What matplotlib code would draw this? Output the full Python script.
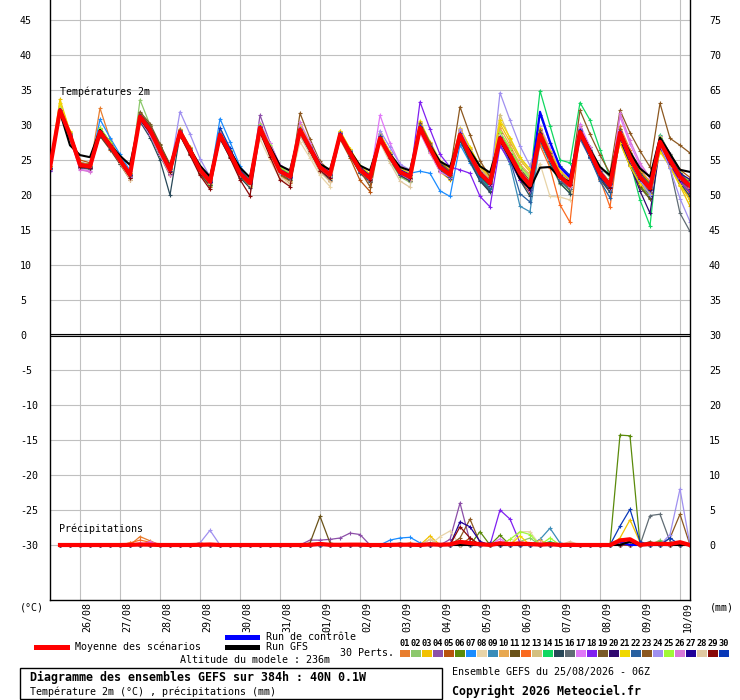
import matplotlib
matplotlib.use("Agg")
import matplotlib.pyplot as plt
from matplotlib.lines import Line2D
from matplotlib.patches import Rectangle
import numpy as np

# ---------------- DATA ----------------
step_hours = 6
n_steps = 65
day_labels = ["26/08", "27/08", "28/08", "29/08", "30/08", "31/08", "01/09", "02/09",
              "03/09", "04/09", "05/09", "06/09", "07/09", "08/09", "09/09", "10/09"]
member_names = ["01", "02", "03", "04", "05", "06", "07", "08", "09", "10",
                "11", "12", "13", "14", "15", "16", "17", "18", "19", "20",
                "21", "22", "23", "24", "25", "26", "27", "28", "29", "30"]
member_colors = ["#e87d2e", "#8cc86c", "#f2c200", "#8c4fa8", "#b8520c", "#5a8a0a", "#1a8cff",
                 "#e8d4a8", "#3a8cb8", "#e8a850", "#6a5218", "#fa6a20", "#d4c080", "#10d860",
                 "#284858", "#606c74", "#e078f8", "#8020f0", "#7a5a28", "#300870", "#f0d800",
                 "#2860a0", "#8c5820", "#a090f0", "#a0f838", "#d878d8", "#200098", "#e0c8a0",
                 "#880808", "#0838b8"]

# 2 m temperature (deg C), every 6 h from 25/08 06Z
t_mean = [23.9, 32.1, 28.6, 24.3, 24.1, 29.0, 27.1, 25.0, 22.9, 31.2, 29.3, 26.4, 23.6,
          29.0, 26.4, 23.6, 21.9, 28.6, 26.0, 23.1, 21.7, 29.6, 26.4, 23.4, 22.6,
          29.3, 26.7, 24.0, 22.9, 28.6, 26.0, 23.6, 22.4, 28.1, 25.5, 23.3, 22.6,
          29.6, 26.7, 24.0, 22.9, 28.6, 25.7, 23.1, 21.7, 28.1, 25.7, 23.1, 21.4,
          28.6, 25.4, 22.6, 21.4, 29.0, 26.1, 23.1, 21.4, 28.9, 25.4, 22.6, 21.0,
          27.6, 25.0, 22.6, 21.3]
t_control = [24.0, 32.3, 28.8, 24.4, 24.2, 29.2, 27.3, 25.2, 23.0, 31.4, 29.5, 26.6, 23.8,
             29.2, 26.6, 23.8, 22.1, 28.8, 26.2, 23.3, 21.9, 29.8, 26.6, 23.6, 22.8,
             29.5, 26.9, 24.2, 23.1, 28.8, 26.2, 23.8, 22.6, 28.3, 25.7, 23.5, 22.8,
             29.8, 26.9, 24.2, 23.1, 28.8, 25.9, 23.3, 21.9, 28.3, 25.9, 23.3, 21.6,
             31.9, 27.6, 24.0, 22.5, 29.2, 26.3, 23.3, 21.6, 29.1, 25.6, 22.8, 21.2,
             27.8, 25.2, 22.8, 21.4]
t_gfs = [23.8, 31.8, 27.1, 25.7, 25.4, 29.3, 27.2, 25.6, 24.3, 30.9, 29.0, 26.5, 24.0,
         28.9, 26.6, 24.2, 22.6, 28.4, 26.3, 23.9, 22.5, 29.4, 26.9, 24.2, 23.5,
         29.1, 26.8, 24.4, 23.6, 28.4, 26.3, 24.2, 23.5, 27.9, 25.8, 24.0, 23.5,
         29.3, 27.0, 24.8, 24.0, 28.3, 26.3, 24.1, 23.2, 27.8, 25.3, 22.3, 20.9,
         23.9, 24.0, 22.4, 21.9, 29.2, 26.5, 24.0, 22.8, 28.7, 26.1, 23.8, 22.6,
         28.2, 25.9, 23.6, 23.3]

t01 = [24.0, 32.5, 28.0, 24.0, 23.8, 32.4, 28.0, 25.2, 22.5, 31.0, 29.0, 26.0, 23.2, 29.5, 26.8, 23.8, 21.5, 28.9, 26.3, 23.4, 21.9, 29.9, 26.1, 23.0, 22.2, 29.6, 27.0, 24.4, 23.3, 28.3, 25.6, 23.1, 21.9, 28.6, 25.9, 23.8, 23.0, 30.2, 27.3, 24.6, 23.4, 29.1, 26.3, 23.8, 22.3, 27.4, 25.0, 22.4, 20.6, 29.4, 26.1, 23.3, 22.0, 28.3, 25.4, 22.2, 20.4, 29.8, 26.5, 23.6, 21.9, 28.2, 24.6, 21.4, 19.5]
t02 = [23.6, 31.6, 28.4, 24.0, 23.9, 28.6, 26.8, 24.7, 22.6, 33.6, 30.0, 26.8, 23.8, 28.5, 25.9, 23.1, 21.3, 28.2, 25.6, 22.7, 21.2, 29.2, 26.0, 23.0, 22.1, 29.9, 27.2, 24.5, 23.4, 28.9, 26.4, 24.1, 22.9, 27.6, 24.9, 22.6, 21.8, 29.1, 26.1, 23.4, 22.4, 28.0, 25.0, 22.4, 20.8, 29.0, 26.7, 24.2, 22.6, 27.8, 24.5, 21.6, 20.3, 29.6, 26.9, 24.0, 22.5, 27.9, 24.4, 21.5, 19.6, 27.0, 24.6, 22.4, 21.6]
t03 = [24.1, 33.7, 29.0, 24.5, 24.3, 29.3, 27.4, 25.3, 23.2, 31.3, 29.5, 26.6, 23.9, 29.4, 26.9, 24.0, 22.3, 29.0, 26.4, 23.5, 22.1, 29.3, 26.0, 22.9, 22.0, 28.8, 26.1, 23.5, 22.3, 29.1, 26.6, 24.2, 23.0, 28.5, 26.0, 23.9, 23.1, 29.0, 26.0, 23.3, 22.2, 28.1, 25.1, 22.5, 21.1, 30.2, 27.6, 25.0, 23.3, 28.2, 25.2, 22.6, 21.5, 28.4, 25.6, 22.7, 21.0, 29.5, 26.0, 23.3, 21.8, 26.9, 24.0, 21.3, 18.4]
t04 = [23.5, 31.8, 28.8, 24.6, 24.4, 28.7, 26.9, 24.8, 22.7, 30.8, 28.8, 25.9, 23.1, 29.3, 26.6, 23.9, 22.2, 28.3, 25.8, 22.9, 21.5, 31.4, 27.5, 24.2, 23.2, 28.9, 26.3, 23.7, 22.5, 28.2, 25.7, 23.3, 22.1, 28.7, 26.1, 23.9, 23.0, 30.5, 27.3, 24.5, 23.3, 28.0, 25.2, 22.4, 21.0, 28.8, 26.4, 23.8, 22.0, 29.4, 26.2, 23.4, 22.2, 28.0, 25.3, 22.4, 20.8, 28.4, 25.0, 22.0, 20.4, 27.3, 25.2, 23.0, 21.8]
t05 = [24.2, 32.0, 28.9, 25.0, 24.6, 28.4, 26.5, 24.4, 22.2, 31.7, 29.9, 26.9, 24.0, 28.6, 25.9, 23.0, 21.2, 28.8, 26.2, 23.2, 21.9, 29.1, 25.9, 22.8, 21.7, 29.0, 26.2, 23.3, 22.0, 28.0, 25.3, 22.1, 20.5, 27.9, 25.4, 23.1, 22.4, 29.9, 27.2, 24.6, 23.6, 29.3, 26.6, 24.1, 22.7, 27.6, 25.1, 22.2, 20.3, 28.8, 25.9, 23.3, 22.0, 29.8, 26.8, 23.7, 21.7, 28.2, 24.9, 21.9, 20.0, 28.5, 25.9, 23.6, 22.5]
t06 = [23.8, 32.2, 28.3, 24.1, 23.9, 29.6, 27.6, 25.4, 23.1, 30.6, 28.6, 25.6, 22.8, 28.7, 26.0, 23.2, 21.5, 28.5, 25.8, 23.0, 21.3, 29.7, 26.7, 23.7, 23.0, 29.4, 26.9, 24.3, 23.1, 28.7, 26.2, 23.9, 22.7, 28.3, 25.5, 23.2, 22.3, 29.4, 26.6, 24.0, 22.9, 28.8, 25.6, 22.9, 21.4, 28.3, 25.6, 22.8, 21.0, 27.6, 24.7, 22.0, 20.6, 28.9, 25.8, 22.6, 20.6, 28.0, 24.5, 21.3, 19.6, 27.8, 25.4, 23.1, 21.9]
t07 = [23.7, 31.9, 28.5, 24.2, 24.0, 30.8, 28.2, 25.8, 23.5, 31.1, 29.1, 26.2, 23.4, 29.3, 26.7, 23.9, 22.1, 30.9, 27.6, 24.1, 22.4, 29.4, 26.3, 23.5, 22.7, 29.2, 26.8, 24.2, 23.2, 28.9, 26.4, 24.0, 22.8, 28.4, 25.6, 23.4, 23.1, 23.4, 23.1, 20.6, 19.8, 27.2, 24.6, 22.0, 20.6, 28.6, 26.2, 23.6, 21.8, 29.1, 25.9, 23.1, 21.9, 28.5, 25.6, 22.7, 21.2, 29.0, 25.8, 23.0, 21.6, 27.5, 24.9, 22.3, 20.8]
t08 = [23.6, 32.4, 28.7, 23.8, 23.5, 28.8, 26.9, 24.9, 22.4, 30.9, 28.7, 25.8, 22.9, 28.8, 26.2, 23.4, 21.7, 29.1, 26.4, 23.6, 22.1, 28.0, 25.0, 22.3, 21.5, 27.6, 25.3, 22.8, 21.2, 28.8, 26.3, 23.8, 22.6, 28.3, 25.8, 23.6, 22.8, 30.4, 27.6, 25.0, 23.7, 28.9, 26.0, 23.4, 22.0, 28.3, 25.8, 23.3, 21.2, 24.5, 19.8, 19.7, 19.3, 28.6, 25.9, 22.9, 21.3, 28.7, 25.4, 22.5, 20.7, 27.9, 25.6, 23.2, 22.1]
t09 = [24.0, 31.7, 28.2, 24.4, 24.2, 29.2, 27.3, 25.1, 22.9, 31.4, 29.4, 26.5, 23.7, 29.1, 26.5, 23.7, 22.0, 28.4, 25.9, 23.0, 21.6, 29.5, 26.6, 23.6, 22.8, 29.1, 26.4, 23.8, 22.6, 28.4, 25.7, 23.2, 22.0, 28.2, 25.4, 23.1, 22.4, 29.8, 26.9, 24.1, 22.8, 28.2, 25.3, 22.6, 21.2, 27.3, 24.4, 18.4, 17.6, 27.6, 24.6, 21.9, 20.8, 28.1, 25.3, 22.4, 20.9, 28.1, 24.7, 21.7, 20.1, 27.1, 24.3, 21.8, 20.4]
t10 = [23.9, 32.3, 28.8, 24.5, 24.3, 29.4, 27.5, 25.3, 23.0, 31.5, 29.6, 26.7, 23.9, 29.2, 26.4, 23.4, 21.6, 28.1, 25.5, 22.6, 21.1, 29.8, 26.6, 23.6, 22.9, 29.5, 26.8, 24.1, 22.7, 28.5, 26.1, 23.6, 22.5, 27.7, 25.1, 23.0, 22.2, 29.2, 26.3, 23.6, 22.5, 29.5, 26.7, 24.0, 22.5, 29.6, 27.1, 24.4, 22.9, 28.4, 25.2, 22.5, 21.4, 29.5, 26.4, 23.4, 21.6, 28.3, 25.1, 22.3, 20.8, 26.5, 24.1, 21.7, 20.0]
t11 = [24.1, 31.9, 28.6, 24.3, 24.2, 28.9, 27.0, 24.8, 22.8, 31.6, 29.9, 27.2, 24.4, 29.0, 26.6, 23.8, 22.0, 28.4, 25.7, 22.8, 21.4, 29.4, 26.7, 23.8, 22.8, 29.0, 26.6, 23.9, 22.6, 29.0, 26.3, 23.7, 22.4, 28.0, 25.4, 23.3, 22.6, 29.3, 26.4, 23.8, 22.7, 27.8, 24.8, 22.1, 20.6, 28.5, 25.9, 23.3, 21.7, 28.0, 24.9, 22.1, 20.9, 28.8, 25.9, 22.9, 21.0, 27.6, 24.1, 21.1, 19.4, 27.7, 24.9, 22.0, 20.3]
t12 = [23.8, 32.0, 28.4, 24.1, 23.9, 28.9, 26.9, 24.9, 22.7, 31.0, 28.8, 25.9, 22.9, 28.9, 26.3, 23.6, 21.9, 28.7, 26.1, 23.2, 21.8, 29.5, 26.2, 23.1, 22.4, 29.3, 26.9, 24.2, 23.0, 28.4, 25.8, 23.4, 22.2, 27.8, 25.2, 22.8, 22.0, 29.7, 26.9, 24.2, 23.1, 28.4, 25.5, 22.8, 21.4, 28.0, 25.4, 22.7, 21.0, 27.1, 23.9, 18.6, 16.1, 29.2, 26.0, 22.3, 18.3, 28.6, 25.3, 22.3, 20.5, 27.4, 24.8, 22.2, 20.6]
t13 = [24.0, 32.6, 28.9, 24.4, 24.1, 29.1, 27.2, 25.1, 23.0, 31.2, 29.2, 26.3, 23.5, 29.1, 26.3, 23.5, 21.8, 28.8, 26.2, 23.3, 21.8, 29.6, 26.5, 23.5, 22.6, 29.7, 26.8, 24.2, 22.9, 28.8, 26.2, 23.7, 22.4, 28.3, 25.6, 23.4, 22.7, 29.9, 27.1, 24.4, 23.2, 28.9, 26.1, 23.6, 22.2, 31.5, 28.0, 25.2, 23.6, 29.2, 26.0, 23.1, 21.9, 28.8, 25.8, 22.9, 21.1, 29.0, 25.6, 22.8, 21.2, 27.9, 25.5, 22.9, 21.0]
t14 = [23.7, 32.1, 28.5, 24.2, 24.0, 28.7, 26.9, 24.7, 22.6, 31.3, 29.3, 26.3, 23.4, 28.9, 26.2, 23.4, 21.7, 28.7, 26.1, 23.3, 21.7, 29.4, 26.2, 23.2, 22.3, 29.1, 26.5, 23.8, 22.5, 28.7, 26.0, 23.5, 22.2, 28.1, 25.4, 23.2, 22.4, 29.5, 26.4, 23.7, 22.6, 28.9, 25.6, 22.7, 21.0, 28.1, 25.8, 23.5, 22.0, 34.9, 29.9, 25.0, 24.6, 33.2, 30.7, 26.5, 22.5, 28.2, 24.8, 19.3, 15.6, 28.6, 25.8, 22.9, 21.4]
t15 = [23.8, 31.5, 28.0, 23.9, 23.7, 28.5, 26.6, 24.5, 22.4, 30.5, 28.2, 25.0, 20.0, 28.6, 25.9, 23.1, 21.4, 28.0, 25.4, 22.5, 21.0, 29.2, 26.0, 23.0, 22.1, 28.7, 26.0, 23.4, 22.2, 28.2, 25.6, 23.1, 21.9, 27.9, 25.1, 22.8, 22.0, 29.1, 26.3, 23.5, 22.3, 27.9, 24.9, 22.0, 20.4, 27.5, 24.9, 22.1, 19.8, 28.0, 24.8, 21.7, 20.2, 28.5, 25.4, 22.3, 20.4, 28.6, 25.0, 21.9, 19.9, 27.3, 24.4, 21.7, 19.8]
t16 = [24.0, 32.2, 28.6, 24.3, 24.1, 29.0, 27.0, 25.0, 22.9, 31.1, 29.2, 26.3, 23.5, 28.8, 26.2, 23.5, 21.8, 28.5, 25.9, 23.0, 21.6, 29.5, 26.4, 23.3, 22.5, 29.2, 26.6, 23.9, 22.8, 28.5, 25.9, 23.5, 22.3, 28.0, 25.3, 23.1, 22.4, 29.6, 26.7, 23.9, 22.8, 28.5, 25.5, 22.9, 21.4, 27.9, 25.3, 22.6, 21.0, 28.3, 25.0, 22.2, 20.8, 28.7, 25.7, 22.7, 20.9, 28.3, 24.8, 21.9, 20.3, 27.0, 23.9, 17.4, 14.8]
t17 = [23.6, 32.3, 28.2, 23.7, 23.4, 29.2, 27.2, 25.0, 22.8, 30.9, 28.9, 26.0, 23.2, 28.9, 26.3, 23.4, 21.7, 28.6, 26.0, 23.1, 21.6, 30.3, 27.4, 24.3, 23.1, 30.2, 26.8, 24.0, 22.7, 28.9, 26.1, 23.6, 22.3, 31.4, 27.4, 24.4, 23.1, 28.9, 26.0, 23.3, 22.5, 29.0, 25.8, 23.0, 21.5, 27.5, 25.0, 22.4, 20.6, 29.8, 26.7, 23.7, 22.3, 30.1, 26.9, 23.7, 21.8, 31.2, 27.3, 24.2, 22.4, 28.4, 25.9, 23.1, 21.5]
t18 = [23.5, 31.7, 28.2, 24.0, 23.8, 28.8, 26.9, 24.8, 22.6, 31.0, 28.9, 26.0, 23.2, 29.1, 26.4, 23.6, 21.9, 28.9, 26.3, 23.4, 21.9, 29.8, 26.5, 23.4, 22.5, 29.1, 26.6, 23.8, 22.6, 28.6, 26.0, 23.4, 22.1, 28.0, 25.3, 23.0, 22.3, 33.3, 29.4, 25.8, 24.0, 23.6, 23.1, 19.8, 18.3, 27.0, 24.8, 22.2, 20.8, 28.9, 25.6, 22.8, 21.6, 29.4, 26.3, 23.3, 21.5, 29.1, 25.7, 22.9, 21.1, 26.8, 24.2, 21.9, 20.4]
t19 = [24.1, 32.0, 28.8, 24.6, 24.4, 29.3, 27.4, 25.3, 23.1, 31.9, 30.2, 27.3, 24.2, 29.2, 26.7, 23.8, 22.0, 28.9, 26.3, 23.4, 22.0, 29.8, 26.9, 23.9, 23.0, 29.6, 27.0, 24.3, 23.1, 28.8, 26.2, 23.8, 22.6, 28.1, 25.6, 23.5, 22.9, 30.0, 27.2, 24.5, 23.3, 28.7, 25.9, 23.3, 21.9, 28.4, 26.0, 23.4, 21.9, 28.6, 25.6, 22.9, 21.8, 29.2, 26.3, 23.3, 21.7, 29.4, 26.0, 23.2, 21.6, 28.0, 25.6, 23.0, 21.9]
t20 = [23.9, 31.9, 28.4, 24.2, 24.0, 29.1, 27.1, 24.9, 22.8, 30.8, 28.7, 25.8, 23.0, 29.0, 26.4, 23.6, 21.8, 28.5, 25.8, 22.9, 21.5, 29.6, 26.5, 23.5, 22.7, 29.2, 26.5, 23.8, 22.7, 28.6, 26.0, 23.5, 22.3, 28.4, 25.8, 23.6, 22.9, 29.7, 26.9, 24.3, 23.1, 28.3, 25.4, 22.7, 21.3, 27.8, 25.3, 22.6, 20.7, 28.8, 25.6, 22.8, 21.5, 28.4, 25.4, 22.6, 20.8, 28.0, 24.3, 20.6, 17.4, 26.8, 24.5, 22.2, 20.9]
t21 = [24.2, 33.2, 29.1, 24.6, 24.3, 29.5, 27.5, 25.3, 23.1, 31.4, 29.4, 26.5, 23.6, 29.3, 26.6, 23.7, 22.0, 29.2, 26.5, 23.6, 22.2, 29.9, 26.8, 23.7, 22.9, 30.1, 27.3, 24.5, 23.3, 29.2, 26.6, 24.1, 22.9, 28.8, 26.1, 23.8, 23.1, 30.6, 27.6, 24.8, 23.5, 29.6, 26.8, 24.1, 22.6, 30.7, 28.2, 25.4, 23.7, 29.6, 26.3, 23.4, 22.2, 29.0, 26.1, 23.1, 21.4, 27.4, 24.1, 21.6, 20.2, 26.2, 24.0, 21.5, 19.2]
t22 = [23.7, 31.8, 28.3, 24.0, 23.8, 29.3, 27.3, 25.2, 23.0, 31.2, 29.1, 26.2, 23.4, 29.0, 26.4, 23.5, 21.8, 28.6, 26.0, 23.0, 21.6, 29.3, 26.3, 23.4, 22.5, 29.0, 26.4, 23.8, 22.7, 28.3, 25.8, 23.3, 22.1, 28.2, 25.6, 23.3, 22.6, 29.5, 26.5, 23.8, 22.6, 28.2, 25.2, 22.3, 20.8, 27.8, 25.0, 20.2, 19.0, 28.5, 25.3, 22.2, 21.1, 28.6, 25.3, 22.0, 19.6, 28.7, 25.3, 22.4, 20.9, 27.6, 25.1, 22.8, 21.7]
t23 = [23.8, 31.8, 28.5, 24.3, 24.0, 29.0, 27.0, 24.9, 22.7, 31.5, 29.6, 26.8, 23.9, 29.3, 26.5, 23.5, 21.7, 28.8, 26.3, 23.3, 21.9, 29.9, 26.4, 23.1, 21.9, 31.7, 28.0, 24.8, 23.4, 28.8, 26.2, 23.5, 21.2, 28.3, 25.8, 23.6, 22.8, 30.3, 27.5, 24.7, 23.4, 32.6, 28.6, 24.9, 22.6, 28.8, 26.4, 23.7, 22.0, 29.3, 26.0, 22.9, 21.6, 32.1, 28.7, 25.7, 23.1, 32.1, 28.9, 26.3, 24.0, 33.1, 28.1, 27.1, 26.0]
t24 = [23.6, 31.6, 28.3, 24.1, 23.9, 29.0, 27.2, 25.1, 22.9, 31.0, 29.0, 26.2, 23.5, 31.9, 28.7, 25.2, 22.6, 28.5, 25.9, 23.1, 21.7, 29.3, 26.1, 23.2, 22.4, 28.9, 26.4, 23.7, 22.4, 28.4, 25.9, 23.4, 22.1, 29.2, 26.8, 24.4, 23.6, 29.9, 27.0, 24.2, 22.9, 29.5, 26.3, 23.1, 21.4, 34.6, 30.7, 27.0, 24.2, 28.3, 25.0, 22.4, 21.2, 28.9, 25.9, 22.9, 20.9, 28.4, 25.0, 22.1, 20.0, 27.1, 23.8, 19.5, 16.2]
t25 = [23.9, 32.4, 28.9, 24.4, 24.2, 29.6, 27.6, 25.4, 23.1, 31.1, 29.0, 26.1, 23.4, 28.7, 26.1, 23.3, 21.6, 28.6, 26.0, 23.1, 21.5, 30.1, 27.1, 24.0, 23.1, 29.4, 26.7, 24.0, 22.7, 28.7, 26.1, 23.7, 22.5, 28.1, 25.5, 23.3, 22.6, 29.4, 26.6, 24.0, 22.8, 28.7, 25.9, 23.3, 21.8, 29.0, 26.6, 24.0, 22.4, 28.5, 25.5, 22.7, 21.5, 29.3, 26.5, 23.5, 21.8, 28.8, 25.5, 22.6, 20.9, 28.3, 25.7, 23.3, 21.9]
t26 = [23.7, 32.0, 28.1, 23.6, 23.3, 29.2, 27.0, 24.8, 22.6, 30.7, 28.6, 25.7, 22.9, 28.9, 26.2, 23.4, 21.7, 28.8, 26.2, 23.3, 21.8, 29.9, 26.8, 23.6, 22.7, 30.4, 27.5, 24.6, 23.2, 28.9, 26.2, 23.7, 22.5, 28.1, 25.4, 23.2, 22.5, 29.8, 26.8, 24.0, 22.8, 29.0, 25.9, 23.1, 21.5, 28.2, 25.6, 22.9, 21.2, 28.4, 25.2, 22.4, 21.1, 29.6, 26.6, 23.4, 21.5, 31.7, 27.8, 24.6, 22.5, 27.9, 25.2, 22.6, 21.0]
t27 = [23.8, 31.9, 28.5, 24.2, 23.9, 29.1, 27.1, 24.9, 22.8, 31.2, 29.2, 26.3, 23.5, 29.0, 26.3, 23.5, 21.8, 28.6, 26.1, 23.2, 21.7, 29.7, 26.5, 23.5, 22.6, 29.3, 26.7, 24.0, 22.8, 28.7, 26.2, 23.9, 22.8, 28.1, 25.6, 23.5, 22.8, 29.7, 26.9, 24.2, 23.0, 28.5, 25.6, 23.0, 21.6, 28.0, 25.5, 22.8, 21.2, 28.8, 25.6, 22.7, 21.4, 29.1, 26.2, 23.1, 21.2, 28.7, 25.2, 22.3, 20.7, 27.9, 25.5, 23.1, 22.2]
t28 = [24.0, 32.3, 28.7, 24.3, 24.1, 28.8, 26.9, 24.6, 22.2, 31.0, 29.0, 26.0, 23.1, 29.1, 26.5, 23.7, 22.0, 28.4, 25.8, 22.9, 21.5, 29.1, 25.7, 22.6, 21.8, 28.4, 25.8, 23.3, 21.9, 28.5, 25.9, 23.4, 22.2, 27.5, 24.6, 22.0, 21.1, 29.5, 26.7, 24.0, 22.8, 28.9, 26.0, 23.3, 21.9, 28.6, 26.1, 23.5, 21.8, 28.5, 25.3, 22.5, 21.3, 28.7, 25.9, 23.0, 21.3, 28.9, 25.5, 22.7, 21.1, 27.4, 24.9, 22.5, 21.1]
t29 = [23.7, 31.9, 28.3, 24.0, 23.8, 28.8, 26.8, 24.7, 22.5, 31.1, 29.0, 26.1, 23.3, 28.5, 25.7, 22.8, 20.8, 28.2, 25.3, 22.2, 19.9, 28.9, 25.5, 22.2, 21.2, 29.0, 26.3, 23.5, 22.4, 28.5, 25.9, 23.4, 22.2, 28.0, 25.3, 23.1, 22.5, 29.6, 26.7, 24.0, 22.9, 28.5, 25.7, 23.1, 21.7, 28.2, 25.6, 23.0, 21.3, 28.7, 25.5, 22.7, 21.4, 28.6, 25.7, 22.8, 21.0, 28.5, 25.2, 22.5, 20.9, 27.5, 25.0, 22.7, 21.3]
t30 = [23.9, 32.2, 28.7, 24.4, 24.2, 29.0, 27.1, 25.0, 22.9, 31.3, 29.4, 26.5, 23.7, 29.1, 26.5, 23.7, 22.0, 29.6, 26.7, 23.6, 22.0, 29.7, 26.5, 23.5, 22.6, 29.4, 26.8, 24.2, 23.0, 28.8, 26.3, 23.9, 22.7, 28.4, 25.8, 23.6, 22.9, 29.9, 27.0, 24.3, 23.1, 28.8, 25.9, 23.3, 21.9, 28.3, 25.8, 23.2, 21.6, 31.5, 27.4, 24.2, 22.8, 29.3, 26.4, 23.4, 21.6, 29.0, 25.6, 22.8, 21.2, 27.8, 25.3, 22.9, 21.5]

# 6-hourly precipitation (mm), from 25/08 12Z (step 1) to 10/09 06Z (step 64)
p_mean = [0, 0, 0, 0, 0, 0, 0, 0.02, 0.07, 0.05, 0, 0, 0, 0, 0.03, 0.07, 0, 0, 0, 0, 0, 0, 0, 0, 0, 0.03, 0.15, 0.03, 0.03, 0.05, 0.05, 0, 0, 0.02, 0.04, 0.04, 0.01, 0.1, 0.04, 0.09, 0.45, 0.28, 0.11, 0.02, 0.24, 0.14, 0.2, 0.14, 0.06, 0.12, 0.01, 0.02, 0, 0, 0, 0, 0.65, 0.82, 0.03, 0.15, 0.18, 0.13, 0.4, 0]
p_control = [0, 0, 0, 0, 0, 0, 0, 0, 0, 0, 0, 0, 0, 0, 0, 0, 0, 0, 0, 0, 0, 0, 0, 0, 0, 0, 0, 0, 0, 0, 0, 0, 0, 0, 0, 0, 0, 0, 0, 0, 0.3, 0, 0, 0, 0, 0, 0, 0, 0, 0, 0, 0, 0, 0, 0, 0, 0.4, 0, 0, 0, 0, 0, 0.3, 0]
p_gfs = [0, 0, 0, 0, 0, 0, 0, 0, 0, 0, 0, 0, 0, 0, 0, 0, 0, 0, 0, 0, 0, 0, 0, 0, 0, 0, 0, 0, 0, 0, 0, 0, 0, 0, 0.2, 0, 0, 0, 0, 0, 0, 0, 0, 0, 0, 0, 0, 0, 0, 0, 0, 0, 0, 0, 0, 0, 0, 0.5, 0, 0, 0, 0, 0, 0]

p01 = [0, 0, 0, 0, 0, 0, 0, 0, 1.2, 0.6, 0, 0, 0, 0, 0, 0, 0, 0, 0, 0, 0, 0, 0, 0, 0, 0, 0, 0, 0, 0, 0, 0, 0, 0, 0, 0.3, 0, 0, 0, 0, 0, 0, 0.4, 0, 0, 0, 0, 0, 0, 0, 0, 0, 0, 0, 0, 0, 0, 0, 0, 0, 0, 0, 0, 0]
p02 = [0, 0, 0, 0, 0, 0, 0, 0, 0, 0, 0, 0, 0, 0, 0, 0, 0, 0, 0, 0, 0, 0, 0, 0, 0, 0, 0, 0, 0, 0, 0, 0, 0, 0, 0, 0, 0, 0, 0, 0, 0, 0, 0, 0, 0, 0, 0.5, 1.0, 0, 0, 0, 0, 0, 0, 0, 0, 0, 0, 0, 0, 0.7, 0, 0, 0]
p03 = [0, 0, 0, 0, 0, 0, 0, 0, 0, 0, 0, 0, 0, 0, 0, 0, 0, 0, 0, 0, 0, 0, 0, 0, 0, 0, 0, 0, 0, 0, 0, 0, 0, 0, 0, 0, 0, 1.3, 0, 0, 0, 0, 0, 0, 0, 0, 0, 0, 0, 0, 0, 0, 0, 0, 0, 0, 1.0, 3.6, 0.4, 0, 0, 0, 0, 0]
p04 = [0, 0, 0, 0, 0, 0, 0, 0, 0, 0, 0, 0, 0, 0, 0, 0, 0, 0, 0, 0, 0, 0, 0, 0, 0, 0.7, 0.7, 0.8, 1.0, 1.7, 1.5, 0, 0, 0, 0, 0, 0, 0, 0, 0.8, 6.0, 0.5, 0, 0, 0, 0, 0, 0, 0, 0, 0, 0, 0, 0, 0, 0, 0, 0, 0, 0, 0, 0, 0, 0]
p05 = [0, 0, 0, 0, 0, 0, 0, 0, 0, 0, 0, 0, 0, 0, 0.3, 0, 0, 0, 0, 0, 0, 0, 0, 0, 0, 0, 0, 0, 0, 0, 0, 0, 0, 0, 0, 0, 0, 0, 0, 0, 0, 1.0, 0, 0, 0, 0, 0, 0, 0, 0, 0, 0, 0, 0, 0, 0, 0, 0.4, 0, 0, 0, 0, 0, 0]
p06 = [0, 0, 0, 0, 0, 0, 0, 0, 0, 0, 0, 0, 0, 0, 0, 0, 0, 0, 0, 0, 0, 0, 0, 0, 0, 0, 0, 0, 0, 0, 0, 0, 0, 0, 0, 0, 0, 0, 0, 0, 0, 0, 1.9, 0, 1.4, 0, 0, 0, 0, 0, 0, 0, 0, 0, 0, 0, 15.7, 15.6, 0.2, 0, 0, 0, 0, 0]
p07 = [0, 0, 0, 0, 0, 0, 0, 0, 0, 0, 0, 0, 0, 0, 0, 0, 0, 0, 0, 0, 0, 0, 0, 0, 0, 0, 0, 0, 0, 0, 0, 0, 0, 0.7, 1.0, 1.1, 0.3, 0, 0, 0, 0, 0, 0, 0, 0, 0, 0, 0, 0, 0, 0, 0, 0, 0, 0, 0, 0, 0, 0, 0, 0, 0, 0, 0]
p08 = [0, 0, 0, 0, 0, 0, 0, 0, 0, 0, 0, 0, 0, 0, 0, 0, 0, 0, 0, 0, 0, 0, 0, 0, 0, 0, 0, 0, 0, 0, 0, 0, 0, 0, 0, 0, 0, 0, 1.2, 2.0, 0, 0, 0, 0, 0, 0, 1.9, 1.9, 0, 0, 0, 0, 0, 0, 0, 0, 0, 0, 0, 0, 0, 0, 0, 0]
p09 = [0, 0, 0, 0, 0, 0, 0, 0, 0, 0, 0, 0, 0, 0, 0, 0, 0, 0, 0, 0, 0, 0, 0, 0, 0, 0, 0, 0, 0, 0, 0, 0, 0, 0, 0, 0, 0, 0, 0, 0, 0, 0, 0, 0, 0, 0, 0, 0, 0.8, 2.4, 0.3, 0, 0, 0, 0, 0, 0, 0, 0, 0, 0, 0, 0, 0]
p10 = [0, 0, 0, 0, 0, 0, 0, 0.3, 0, 0, 0, 0, 0, 0, 0.2, 0, 0, 0, 0, 0, 0, 0, 0, 0, 0, 0, 0, 0, 0, 0, 0, 0, 0, 0, 0, 0, 0, 0, 0, 0, 0, 0, 0, 0, 0, 0, 0, 0, 0.7, 0, 0, 0, 0, 0, 0, 0, 0, 0, 0, 0, 0, 0, 0, 0]
p11 = [0, 0, 0, 0, 0, 0, 0, 0, 0, 0, 0, 0, 0, 0, 0, 0, 0, 0, 0, 0, 0, 0, 0, 0, 0, 0.3, 4.1, 0.3, 0, 0, 0, 0, 0, 0, 0, 0, 0, 0, 0, 0, 0, 0, 0, 0.3, 0, 0, 0, 0, 0, 0, 0, 0, 0, 0, 0, 0, 0, 0, 0, 0, 0, 0, 0, 0]
p12 = [0, 0, 0, 0, 0, 0, 0, 0.3, 0.7, 0.4, 0, 0, 0, 0, 0, 0, 0, 0, 0, 0, 0, 0, 0, 0, 0, 0, 0, 0, 0, 0, 0, 0, 0, 0, 0.2, 0, 0, 0, 0, 0, 0, 0, 0, 0, 0, 0, 0, 0, 0, 0, 0, 0, 0, 0, 0, 0, 0, 0, 0, 0, 0, 0, 0, 0]
p13 = [0, 0, 0, 0, 0, 0, 0, 0, 0, 0, 0, 0, 0, 0, 0, 0, 0, 0, 0, 0, 0, 0, 0, 0, 0, 0, 0, 0, 0, 0, 0, 0, 0, 0, 0, 0, 0, 0.8, 0, 0, 0, 0, 0, 0, 0, 0, 0.6, 0, 0, 0, 0, 0, 0, 0, 0, 0, 0, 0, 0, 0, 0, 0, 0, 0]
p14 = [0, 0, 0, 0, 0, 0, 0, 0, 0, 0, 0, 0, 0, 0, 0, 0, 0, 0, 0, 0, 0, 0, 0, 0, 0, 0, 0, 0, 0, 0, 0, 0, 0, 0, 0, 0, 0, 0, 0, 0, 0, 0, 0, 0, 0, 0, 0, 0, 0, 0.5, 0, 0, 0, 0, 0, 0, 0, 0, 0, 0, 0.5, 0, 0, 0]
p15 = [0, 0, 0, 0, 0, 0, 0, 0, 0, 0, 0, 0, 0, 0, 0, 0, 0, 0, 0, 0, 0, 0, 0, 0, 0, 0, 0, 0, 0, 0, 0, 0, 0, 0, 0, 0, 0, 0, 0, 0, 0, 0, 0.4, 0, 0, 0, 0, 0, 0, 0, 0, 0, 0, 0, 0, 0, 0.3, 0, 0, 0, 0, 0, 0, 0]
p16 = [0, 0, 0, 0, 0, 0, 0, 0, 0, 0, 0, 0, 0, 0, 0, 0, 0, 0, 0, 0, 0, 0, 0, 0, 0, 0, 0, 0, 0, 0, 0, 0, 0, 0, 0, 0, 0, 0, 0, 0, 0, 0, 0, 0, 0, 0, 0, 0, 0, 0, 0, 0, 0, 0, 0, 0, 0, 0, 0, 4.2, 4.4, 0.5, 0, 0]
p17 = [0, 0, 0, 0, 0, 0, 0, 0, 0, 0.5, 0, 0, 0, 0, 0, 0, 0, 0, 0, 0, 0, 0, 0, 0, 0, 0, 0, 0, 0, 0, 0, 0, 0, 0, 0, 0, 0, 0, 0, 0, 0, 0, 0, 0, 0.9, 0, 0, 0, 0.3, 0, 0, 0, 0, 0, 0, 0, 0, 0, 0, 0, 0, 0, 0, 0]
p18 = [0, 0, 0, 0, 0, 0, 0, 0, 0, 0, 0, 0, 0, 0, 0, 0, 0, 0, 0, 0, 0, 0, 0, 0, 0, 0, 0, 0, 0, 0, 0, 0, 0, 0, 0, 0, 0, 0, 0, 0, 0, 0, 0, 0, 5.0, 3.7, 0.3, 0, 0, 0, 0, 0, 0, 0, 0, 0, 0, 0, 0, 0, 0, 0, 0, 0]
p19 = [0, 0, 0, 0, 0, 0, 0, 0, 0, 0, 0, 0, 0, 0, 0, 0, 0, 0, 0, 0, 0, 0, 0, 0, 0, 0, 0, 0, 0, 0, 0, 0, 0, 0, 0, 0, 0, 0, 0, 0, 0, 0, 0, 0, 0, 0, 0, 0, 0, 0, 0, 0, 0, 0, 0, 0, 0, 0.6, 0, 0.5, 0, 0, 0, 0]
p20 = [0, 0, 0, 0, 0, 0, 0, 0, 0, 0, 0, 0, 0, 0, 0, 0, 0, 0, 0, 0, 0, 0, 0, 0, 0, 0, 0, 0, 0, 0, 0, 0, 0, 0, 0, 0, 0, 0, 0, 0, 0.3, 0, 0, 0, 0, 0, 0, 0, 0, 0, 0, 0, 0, 0, 0, 0, 0, 0.4, 0, 0, 0, 0, 0, 0]
p21 = [0, 0, 0, 0, 0, 0, 0, 0, 0, 0, 0, 0, 0, 0, 0, 0, 0, 0, 0, 0, 0, 0, 0, 0, 0, 0, 0, 0, 0, 0, 0, 0, 0, 0, 0, 0, 0, 0, 0, 0, 0, 0, 0, 0, 0, 0, 1.3, 0, 0, 0, 0, 0, 0, 0, 0, 0, 0.3, 0, 0, 0, 0, 0, 0, 0]
p22 = [0, 0, 0, 0, 0, 0, 0, 0, 0, 0, 0, 0, 0, 0, 0, 0, 0, 0, 0, 0, 0, 0, 0, 0, 0, 0, 0, 0, 0, 0, 0, 0, 0, 0, 0, 0, 0, 0.3, 0, 0, 0.4, 0, 0, 0, 0, 0, 0, 0, 0, 0, 0, 0, 0, 0, 0, 0, 0, 0, 0, 0, 0, 0, 0, 0]
p23 = [0, 0, 0, 0, 0, 0, 0, 0, 0, 0, 0, 0, 0, 0, 0, 0, 0, 0, 0, 0, 0, 0, 0, 0, 0, 0, 0, 0, 0, 0, 0, 0, 0, 0, 0, 0, 0, 0, 0, 0, 1.0, 3.7, 0.3, 0, 0, 0, 0, 0, 0, 0, 0, 0, 0, 0, 0, 0, 0.4, 0, 0, 0, 0, 1.0, 4.4, 0]
p24 = [0, 0, 0, 0, 0, 0, 0, 0, 0, 0, 0, 0, 0, 0, 0.3, 2.1, 0, 0, 0, 0, 0, 0, 0, 0, 0, 0, 0, 0, 0, 0, 0, 0, 0, 0, 0, 0, 0, 0, 0, 0, 0, 0, 0, 0, 0, 0, 0, 0, 0, 0, 0, 0, 0, 0, 0, 0, 0, 0, 0, 0, 0, 1.5, 8.0, 0]
p25 = [0, 0, 0, 0, 0, 0, 0, 0, 0, 0, 0, 0, 0, 0, 0, 0, 0, 0, 0, 0, 0, 0, 0, 0, 0, 0, 0, 0, 0, 0, 0, 0, 0, 0, 0, 0, 0, 0, 0, 0, 0, 0, 0, 0, 0, 0.8, 1.9, 1.5, 0, 1.0, 0, 0, 0, 0, 0, 0, 0, 0, 0, 0, 0, 0, 0, 0]
p26 = [0, 0, 0, 0, 0, 0, 0, 0, 0.3, 0, 0, 0, 0, 0, 0, 0, 0, 0, 0, 0, 0, 0, 0, 0, 0, 0, 0, 0, 0, 0, 0, 0, 0, 0, 0, 0, 0, 0, 0, 0, 0, 0, 0, 0, 0.5, 0, 0, 0, 0, 0, 0, 0, 0, 0, 0, 0, 0, 0, 0, 0, 0, 0, 0, 0]
p27 = [0, 0, 0, 0, 0, 0, 0, 0, 0, 0, 0, 0, 0, 0, 0, 0, 0, 0, 0, 0, 0, 0, 0, 0, 0, 0, 0, 0, 0, 0, 0, 0, 0, 0, 0, 0, 0, 0, 0, 0, 3.3, 2.6, 0.5, 0, 0, 0, 0, 0, 0, 0, 0, 0, 0, 0, 0, 0, 0, 0, 0, 0, 0, 0, 0, 0]
p28 = [0, 0, 0, 0, 0, 0, 0, 0, 0, 0, 0, 0, 0, 0, 0, 0, 0, 0, 0, 0, 0, 0, 0, 0, 0, 0, 0, 0, 0, 0, 0, 0, 0, 0, 0, 0, 0, 0.8, 0, 0, 0, 0, 0, 0, 0, 0, 0, 0, 0, 0, 0, 0.5, 0, 0, 0, 0, 0, 0, 0, 0, 0, 0, 0, 0]
p29 = [0, 0, 0, 0, 0, 0, 0, 0, 0, 0, 0, 0, 0, 0, 0, 0, 0, 0, 0, 0, 0, 0, 0, 0, 0, 0, 0, 0, 0, 0, 0, 0, 0, 0, 0, 0, 0, 0, 0, 0, 2.6, 1.0, 0, 0, 0, 0, 0, 0, 0, 0, 0, 0, 0, 0, 0, 0, 0, 0, 0, 0, 0, 0, 0, 0]
p30 = [0, 0, 0, 0, 0, 0, 0, 0, 0, 0, 0, 0, 0, 0, 0, 0, 0, 0, 0, 0, 0, 0, 0, 0, 0, 0, 0, 0, 0, 0, 0, 0, 0, 0, 0, 0, 0, 0, 0, 0, 0.5, 0, 0, 0.3, 0, 0, 0, 0, 0, 0, 0, 0, 0, 0, 0, 0, 2.7, 5.1, 0.5, 0, 0, 1.0, 0, 0]

t_members = [t01, t02, t03, t04, t05, t06, t07, t08, t09, t10, t11, t12, t13, t14, t15,
             t16, t17, t18, t19, t20, t21, t22, t23, t24, t25, t26, t27, t28, t29, t30]
p_members = [p01, p02, p03, p04, p05, p06, p07, p08, p09, p10, p11, p12, p13, p14, p15,
             p16, p17, p18, p19, p20, p21, p22, p23, p24, p25, p26, p27, p28, p29, p30]

# ---------------- FIGURE ----------------
W, H = 740, 700
MONO = "DejaVu Sans Mono"
plt.rcParams["font.family"] = [MONO, "DejaVu Sans"]

fig = plt.figure(figsize=(W / 100, H / 100), dpi=100)
fig.patch.set_facecolor("white")


def fx(px):
    return px / W


def fy(py):
    return 1 - py / H


ax = fig.add_axes([fx(50), fy(600), 640 / W, 600 / H])
hours = np.arange(n_steps) * step_hours
hours_p = hours[1:]
P_OFF = -30.0   # precipitation panel: 0 mm drawn at -30 on the left scale

ylo, yhi = -265 / 7.0, 335 / 7.0
ax.set_xlim(0, 384)
ax.set_ylim(ylo, yhi)

# grid
grid_c = "#c0c0c0"
for v in range(-30, 50, 5):
    ax.axhline(v, color=grid_c, lw=0.8, zorder=0)
day_hours = [18 + 24 * k for k in range(16)]
for h in day_hours:
    ax.axvline(h, color=grid_c, lw=0.8, zorder=0)

# separation between panels
ax.axhline(0.14, color="black", lw=0.8, zorder=6)
ax.axhline(-0.14, color="black", lw=0.8, zorder=6)

# members
for tm, pm, c in zip(t_members, p_members, member_colors):
    ax.plot(hours, tm, color=c, lw=0.9, marker="+", ms=3, mew=0.8, zorder=2)
    ax.plot(hours_p, np.array(pm) + P_OFF, color=c, lw=0.9, marker="+", ms=3, mew=0.8, zorder=2)

# control and GFS
ax.plot(hours, t_control, color="#0000ff", lw=1.5, zorder=3)
ax.plot(hours_p, np.array(p_control) + P_OFF, color="#0000ff", lw=1.5, zorder=3)
ax.plot(hours, t_gfs, color="black", lw=1.5, zorder=3)
ax.plot(hours_p, np.array(p_gfs) + P_OFF, color="black", lw=1.5, zorder=3)

# ensemble mean
ax.plot(hours, t_mean, color="#ff0000", lw=3.0, zorder=4)
ax.plot(hours_p, np.array(p_mean) + P_OFF, color="#ff0000", lw=3.0, zorder=4)

# axes styling
for s in ("left", "right", "bottom"):
    ax.spines[s].set_color("black")
    ax.spines[s].set_linewidth(1.0)
ax.spines["top"].set_visible(False)

lt = list(range(-30, 50, 5))
ax.set_yticks(lt, labels=[str(v) for v in lt], ha="left", fontsize=7.2, family=MONO)
ax.tick_params(axis="y", length=0, pad=21.6)
ax.set_xticks([])

ax2 = ax.twinx()
ax2.set_ylim(ylo + 30, yhi + 30)
rt = list(range(0, 80, 5))
ax2.set_yticks(rt, labels=[str(v) for v in rt], fontsize=7.2, family=MONO)
ax2.tick_params(axis="y", length=0, pad=13.7)
for s in ax2.spines.values():
    s.set_visible(False)

# date labels
for h, lbl in zip(day_hours, day_labels):
    ax.annotate(lbl, xy=(h, 0), xycoords=("data", "axes fraction"),
                xytext=(1.8, -1.5), textcoords="offset points",
                rotation=90, ha="left", va="top", fontsize=7.2, family=MONO)

# panel captions
fig.text(fx(60), fy(91.5), "Températures 2m", ha="left", va="center", fontsize=7.2, family=MONO)
fig.text(fx(59.5), fy(529), "Précipitations", ha="left", va="center", fontsize=7.2, family=MONO)
fig.text(fx(20), fy(607), "(°C)", ha="left", va="center", fontsize=7.2, family=MONO)
fig.text(fx(710), fy(607), "(mm)", ha="left", va="center", fontsize=7.2, family=MONO)

# legend
fig.add_artist(Line2D([fx(35.5), fx(66.5)], [fy(646.7), fy(646.7)], color="#ff0000", lw=3.6))
fig.text(fx(75), fy(646.5), "Moyenne des scénarios", ha="left", va="center", fontsize=7.2, family=MONO)
fig.add_artist(Line2D([fx(227), fx(257)], [fy(637), fy(637)], color="#0000ff", lw=3.6))
fig.text(fx(265.5), fy(636.5), "Run de contrôle", ha="left", va="center", fontsize=7.2, family=MONO)
fig.add_artist(Line2D([fx(227), fx(257)], [fy(646.7), fy(646.7)], color="black", lw=3.6))
fig.text(fx(265.5), fy(646.5), "Run GFS", ha="left", va="center", fontsize=7.2, family=MONO)
fig.text(fx(340.5), fy(652.5), "30 Perts.", ha="left", va="center", fontsize=7.2, family=MONO)

for k, (nm, c) in enumerate(zip(member_names, member_colors)):
    x0 = 399.7 + k * 11.0
    fig.add_artist(Rectangle((fx(x0), fy(656.7)), 10.5 / W, 6.7 / H, facecolor=c,
                             edgecolor="none", transform=fig.transFigure))
    fig.text(fx(x0 + 5.25), fy(643), nm, ha="center", va="center", fontsize=6.2,
             family=MONO, fontweight="bold")

fig.text(fx(180), fy(660), "Altitude du modele : 236m", ha="left", va="center",
         fontsize=7.2, family=MONO)

fig.add_artist(Rectangle((fx(20), fy(699)), 422 / W, 31.5 / H, facecolor="none",
                         edgecolor="black", lw=1.0, transform=fig.transFigure))
fig.text(fx(29.5), fy(677.5), "Diagramme des ensembles GEFS sur 384h : 40N 0.1W",
         ha="left", va="center", fontsize=8.4, family=MONO, fontweight="bold")
fig.text(fx(29.5), fy(692), "Température 2m (°C) , précipitations (mm)",
         ha="left", va="center", fontsize=7.2, family=MONO)
fig.text(fx(452), fy(672), "Ensemble GEFS du 25/08/2026 - 06Z",
         ha="left", va="center", fontsize=7.2, family=MONO)
fig.text(fx(452), fy(691.5), "Copyright 2026 Meteociel.fr",
         ha="left", va="center", fontsize=8.4, family=MONO, fontweight="bold")

fig.savefig("out.png", dpi=100, facecolor="white")
